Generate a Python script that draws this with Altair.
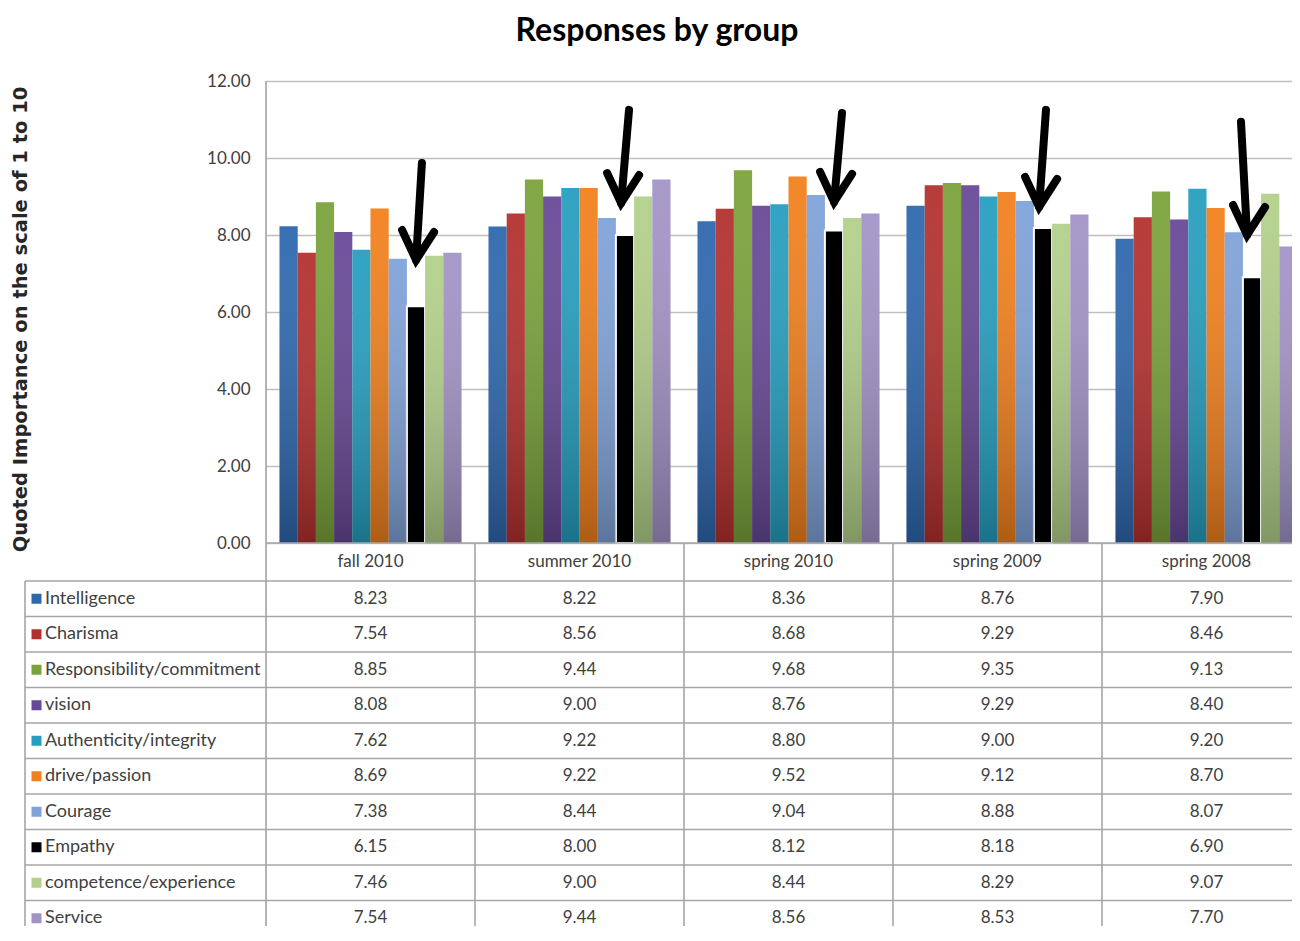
import altair as alt
import pandas as pd

# ---------------- data ----------------
groups = ["fall 2010", "summer 2010", "spring 2010", "spring 2009", "spring 2008"]
categories = ["Intelligence", "Charisma", "Responsibility/commitment", "vision",
              "Authenticity/integrity", "drive/passion", "Courage", "Empathy",
              "competence/experience", "Service"]
intelligence = [8.23, 8.22, 8.36, 8.76, 7.90]
charisma = [7.54, 8.56, 8.68, 9.29, 8.46]
responsibility = [8.85, 9.44, 9.68, 9.35, 9.13]
vision = [8.08, 9.00, 8.76, 9.29, 8.40]
authenticity = [7.62, 9.22, 8.80, 9.00, 9.20]
drive = [8.69, 9.22, 9.52, 9.12, 8.70]
courage = [7.38, 8.44, 9.04, 8.88, 8.07]
empathy = [6.15, 8.00, 8.12, 8.18, 6.90]
competence = [7.46, 9.00, 8.44, 8.29, 9.07]
service = [7.54, 9.44, 8.56, 8.53, 7.70]
series = [intelligence, charisma, responsibility, vision, authenticity,
          drive, courage, empathy, competence, service]
y_ticks = [0, 2, 4, 6, 8, 10, 12]

colors = ["#2D67AE", "#B3302E", "#7AA23A", "#674896", "#259EBF",
          "#F2801C", "#7FA2D8", "#000000", "#B2D08A", "#A293C6"]

# arrow annotations (x in group units, y in value units)
arrow_top_x = [0.746, 1.737, 2.756, 3.732, 4.665]
arrow_top_y = [9.87, 11.25, 11.17, 11.25, 10.94]
arrow_tip_x = [0.718, 1.699, 2.718, 3.699, 4.694]
arrow_tip_y = [7.09, 8.57, 8.60, 8.47, 7.74]

# ---------------- layout ----------------
W, H = 1026, 845               # plot area (page: x 266..1292, y 81..926)
COL = 209                      # px per group column
PX = 38.5                      # px per value unit
X_MAX = W / COL
Y_MIN = 12 - H / PX
PAD = 13.5 / COL               # gap before first bar in a group
BW = 18.2 / COL                # bar width
HEADER_BOTTOM = -38 / PX
ROW_H = 35.5 / PX
LEFT_EDGE = -241 / COL
SWATCH_X = -229.5 / COL
LABEL_X = -221 / COL
FONT = "Lato"
TXT = "#404040"

rows = []
for ci, (cat, vals) in enumerate(zip(categories, series)):
    for gi, (g, v) in enumerate(zip(groups, vals)):
        x0 = gi + PAD + ci * BW
        rows.append({"group": g, "category": cat, "value": v,
                     "bx": x0, "bx2": x0 + BW,
                     "cx": gi + 0.5,
                     "ry": HEADER_BOTTOM - (ci + 0.5) * ROW_H})
df = pd.DataFrame(rows)

legend_df = pd.DataFrame({
    "category": categories,
    "sx": [SWATCH_X] * len(categories),
    "lx": [LABEL_X] * len(categories),
    "ry": [HEADER_BOTTOM - (i + 0.5) * ROW_H for i in range(len(categories))],
})
header_df = pd.DataFrame({"group": groups,
                          "cx": [i + 0.5 for i in range(len(groups))],
                          "ry": [HEADER_BOTTOM / 2] * len(groups)})

lines = []
for k in range(len(categories) + 1):
    yk = HEADER_BOTTOM - k * ROW_H
    lines.append({"x": LEFT_EDGE, "x2": X_MAX, "y": yk, "y2": yk})
lines.append({"x": 0, "x2": X_MAX, "y": 0, "y2": 0})
lines.append({"x": LEFT_EDGE, "x2": LEFT_EDGE, "y": HEADER_BOTTOM, "y2": Y_MIN})
lines.append({"x": 0, "x2": 0, "y": 12, "y2": Y_MIN})
for gi in range(1, 5):
    lines.append({"x": gi, "x2": gi, "y": 0, "y2": Y_MIN})
lines_df = pd.DataFrame(lines)

VTX = 10 / PX
shaft_df = pd.DataFrame({"x": arrow_top_x, "y": arrow_top_y,
                         "x2": arrow_tip_x, "y2": [t + VTX for t in arrow_tip_y]})
head = []
for i, (tx, ty) in enumerate(zip(arrow_tip_x, arrow_tip_y)):
    vy = ty + VTX
    head.append({"a": i, "o": 0, "x": tx - 14 / COL, "y": vy + 30 / PX})
    head.append({"a": i, "o": 1, "x": tx, "y": vy})
    head.append({"a": i, "o": 2, "x": tx + 18 / COL, "y": vy + 28 / PX})
head_df = pd.DataFrame(head)

# ---------------- scales / axes ----------------
y_scale = alt.Scale(domain=[Y_MIN, 12], nice=False, zero=False)
y_axis = alt.Axis(values=y_ticks, format=".2f", grid=True, gridColor="#BFBFBF",
                  gridWidth=1.5, domain=False, ticks=False, labelPadding=16,
                  labelFont=FONT, labelFontSize=17, labelColor=TXT,
                  title="Quoted Importance on the scale of 1 to 10",
                  titleFont="DejaVu Sans", titleFontSize=19.5, titleFontWeight="bold",
                  titleColor="#262626", titleAngle=270, titleX=-246, titleY=238,
                  titleAlign="center", titleBaseline="middle")
x_lin = alt.Scale(domain=[0, X_MAX], nice=False, zero=False)
color_scale = alt.Scale(domain=categories, range=colors)

base = alt.Chart(df)

bars = base.mark_bar(stroke="white").encode(
    x=alt.X("bx:Q", scale=x_lin, axis=None), x2="bx2:Q",
    y=alt.Y("value:Q", scale=y_scale, axis=y_axis),
    y2=alt.datum(0),
    color=alt.Color("category:N", scale=color_scale, legend=None),
    strokeWidth=alt.condition(alt.datum.category == "Empathy", alt.value(2), alt.value(0)),
)

overlay = base.transform_filter(alt.datum.category != "Empathy").mark_bar(
    color=alt.Gradient(gradient="linear",
                       stops=[alt.GradientStop(color="rgba(255,255,255,0.06)", offset=0),
                              alt.GradientStop(color="rgba(0,0,0,0.28)", offset=1)],
                       x1=0, x2=0, y1=0, y2=1)
).encode(
    x=alt.X("bx:Q", scale=x_lin, axis=None), x2="bx2:Q",
    y=alt.Y("value:Q", scale=y_scale, axis=y_axis),
    y2=alt.datum(0),
)

grid_lines = alt.Chart(lines_df).mark_rule(color="#A6A6A6", strokeWidth=1.6).encode(
    x=alt.X("x:Q", scale=x_lin, axis=None), x2="x2:Q",
    y=alt.Y("y:Q", scale=y_scale, axis=y_axis), y2="y2:Q",
)

header_text = alt.Chart(header_df).mark_text(font=FONT, fontSize=17, color=TXT,
                                             baseline="middle", align="center").encode(
    x=alt.X("cx:Q", scale=x_lin, axis=None),
    y=alt.Y("ry:Q", scale=y_scale, axis=y_axis),
    text="group:N",
)

cell_text = base.mark_text(font=FONT, fontSize=17, color=TXT,
                           baseline="middle", align="center").encode(
    x=alt.X("cx:Q", scale=x_lin, axis=None),
    y=alt.Y("ry:Q", scale=y_scale, axis=y_axis),
    text=alt.Text("value:Q", format=".2f"),
)

swatches = alt.Chart(legend_df).mark_square(size=100, opacity=1).encode(
    x=alt.X("sx:Q", scale=x_lin, axis=None),
    y=alt.Y("ry:Q", scale=y_scale, axis=y_axis),
    color=alt.Color("category:N", scale=color_scale, legend=None),
)

legend_text = alt.Chart(legend_df).mark_text(font=FONT, fontSize=18, color=TXT,
                                             baseline="middle", align="left").encode(
    x=alt.X("lx:Q", scale=x_lin, axis=None),
    y=alt.Y("ry:Q", scale=y_scale, axis=y_axis),
    text="category:N",
)

shafts = alt.Chart(shaft_df).mark_rule(color="black", strokeWidth=8, strokeCap="round").encode(
    x=alt.X("x:Q", scale=x_lin, axis=None), x2="x2:Q",
    y=alt.Y("y:Q", scale=y_scale, axis=y_axis), y2="y2:Q",
)

heads = alt.Chart(head_df).mark_line(color="black", strokeWidth=8, strokeJoin="miter",
                                     strokeCap="round").encode(
    x=alt.X("x:Q", scale=x_lin, axis=None),
    y=alt.Y("y:Q", scale=y_scale, axis=y_axis),
    detail="a:N",
    order="o:Q",
)

chart = alt.layer(bars, overlay, grid_lines, header_text, cell_text, swatches,
                  legend_text, shafts, heads).properties(
    width=W, height=H,
    autosize=alt.AutoSizeParams(type="none"),
    padding={"left": 258, "top": 73, "right": 0, "bottom": 0},
    title=alt.Title("Responses by group", font=FONT, fontSize=32, fontWeight="bold",
                    color="black", anchor="middle", frame="group", dx=-122, offset=24),
).configure_view(stroke=None).configure(background="white")

chart.save("out.html", embed_options={"renderer": "svg", "actions": False})
